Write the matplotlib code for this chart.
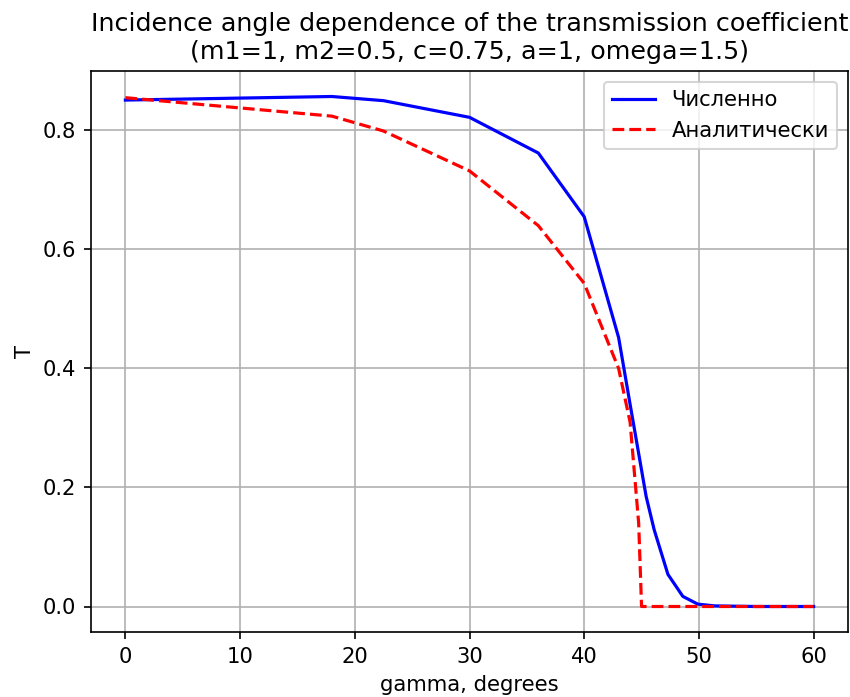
import matplotlib
matplotlib.use("Agg")
import matplotlib.pyplot as plt

# Numerical (blue, solid)
num_gamma = [0, 18, 22.5, 30, 36, 40, 43, 44, 45.4, 46.1, 47.3, 48.6, 49.9, 51.4, 55, 60]
num_T = [0.851, 0.857, 0.850, 0.822, 0.762, 0.655, 0.452, 0.340, 0.185, 0.129, 0.054, 0.017, 0.004, 0.001, 0.0, 0.0]

# Analytical (red, dashed)
an_gamma = [0, 18, 22.5, 30, 36, 40, 43, 44, 44.75, 45, 47, 50, 55, 60]
an_T = [0.855, 0.824, 0.799, 0.732, 0.640, 0.543, 0.400, 0.310, 0.140, 0.0, 0.0, 0.0, 0.0, 0.0]

title = "Incidence angle dependence of the transmission coefficient\n(m1=1, m2=0.5, c=0.75, a=1, omega=1.5)"
labels = ["Численно", "Аналитически"]

s = 1.017
plt.rcParams['font.size'] = 10 * s
plt.rcParams['lines.linewidth'] = 1.5 * s

fig = plt.figure(figsize=(850/150, 697/150), dpi=150)
ax = fig.add_axes([91/850, 1 - 632/697, (848 - 91)/850, (632 - 71)/697])
ax.plot(num_gamma, num_T, 'b-', label=labels[0])
ax.plot(an_gamma, an_T, 'r--', label=labels[1])
ax.set_xlabel("gamma, degrees")
ax.set_ylabel("T")
ax.set_title(title)
ax.legend(loc="upper right")
ax.grid(True)
fig.savefig("out.png", dpi=150)
